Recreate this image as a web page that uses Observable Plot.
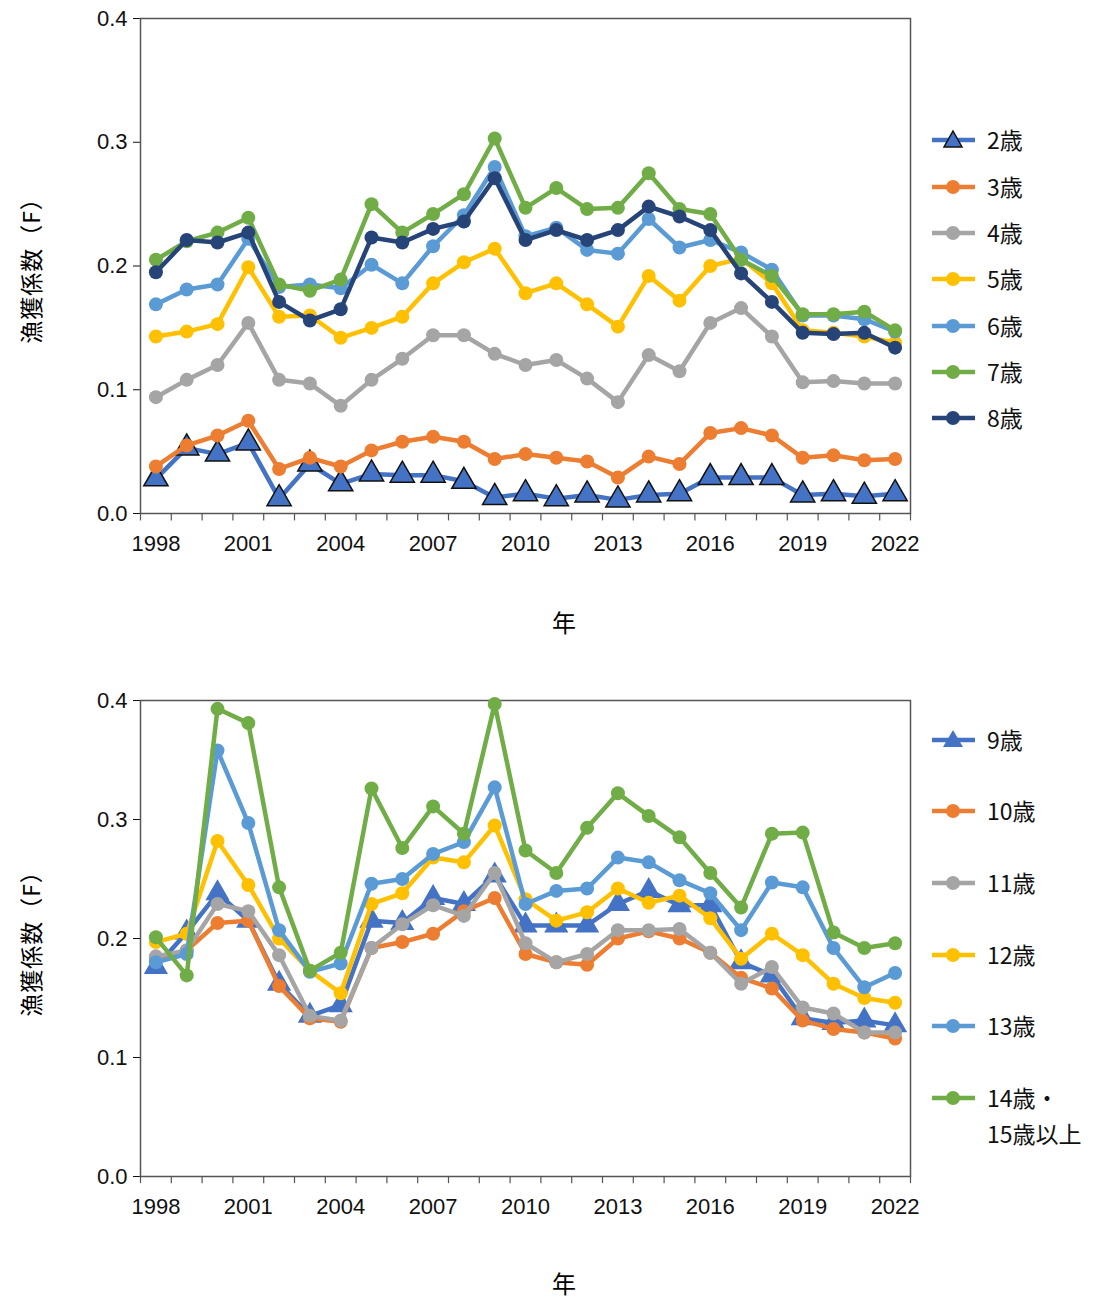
<!DOCTYPE html>
<html><head><meta charset="utf-8">
<script src="https://cdn.jsdelivr.net/npm/d3@7"></script>
<script src="https://cdn.jsdelivr.net/npm/@observablehq/plot@0.6"></script>
<style>
body{margin:0;background:#fff;font-family:"Liberation Sans",Arial,"Noto Sans CJK JP",sans-serif;}
#wrap{position:relative;width:1109px;height:1302px;}
.ylab{position:absolute;font-size:23px;font-family:"Noto Sans CJK JP",sans-serif;letter-spacing:1px;transform:translate(-50%,-50%) rotate(-90deg);white-space:nowrap;}
.xlab{position:absolute;font-size:24px;font-family:"Noto Sans CJK JP",sans-serif;}
.leg{position:absolute;font-size:23px;font-family:"Noto Sans CJK JP",sans-serif;display:flex;align-items:flex-start;line-height:1.55;color:#111;}
.leg svg{margin-right:12px;margin-top:6px;}
</style></head><body><div id="wrap"></div>
<script>
const years = d3.range(1998, 2023);
const yTicks = [0, 0.1, 0.2, 0.3, 0.4];
const xTickLabels = [1998, 2001, 2004, 2007, 2010, 2013, 2016, 2019, 2022];

const topAges = ["2歳","3歳","4歳","5歳","6歳","7歳","8歳"];
const age2 = [0.028,0.053,0.048,0.057,0.012,0.040,0.024,0.032,0.031,0.031,0.026,0.013,0.016,0.012,0.015,0.011,0.015,0.016,0.029,0.029,0.029,0.015,0.016,0.014,0.016];
const age3 = [0.038,0.055,0.063,0.075,0.036,0.045,0.038,0.051,0.058,0.062,0.058,0.044,0.048,0.045,0.042,0.029,0.046,0.040,0.065,0.069,0.063,0.045,0.047,0.043,0.044];
const age4 = [0.094,0.108,0.120,0.154,0.108,0.105,0.087,0.108,0.125,0.144,0.144,0.129,0.120,0.124,0.109,0.090,0.128,0.115,0.154,0.166,0.143,0.106,0.107,0.105,0.105];
const age5 = [0.143,0.147,0.153,0.199,0.159,0.160,0.142,0.150,0.159,0.186,0.203,0.214,0.178,0.186,0.169,0.151,0.192,0.172,0.200,0.206,0.186,0.148,0.146,0.143,0.138];
const age6 = [0.169,0.181,0.185,0.222,0.183,0.185,0.182,0.201,0.186,0.216,0.241,0.280,0.224,0.231,0.213,0.210,0.238,0.215,0.221,0.211,0.197,0.160,0.160,0.157,0.147];
const age7 = [0.205,0.220,0.227,0.239,0.185,0.180,0.189,0.250,0.227,0.242,0.258,0.303,0.247,0.263,0.246,0.247,0.275,0.246,0.242,0.205,0.192,0.161,0.161,0.163,0.148];
const age8 = [0.195,0.221,0.219,0.227,0.171,0.156,0.165,0.223,0.219,0.230,0.236,0.271,0.221,0.229,0.221,0.229,0.248,0.240,0.229,0.194,0.171,0.146,0.145,0.146,0.134];

const botAges = ["9歳","10歳","11歳","12歳","13歳","14歳・15歳以上"];
const age9  = [0.176,0.205,0.238,0.215,0.162,0.135,0.144,0.215,0.213,0.234,0.229,0.253,0.211,0.211,0.211,0.229,0.240,0.228,0.228,0.180,0.169,0.133,0.129,0.131,0.127];
const age10 = [0.183,0.190,0.213,0.215,0.160,0.133,0.130,0.192,0.197,0.204,0.223,0.234,0.187,0.180,0.178,0.200,0.206,0.200,0.188,0.167,0.158,0.131,0.124,0.121,0.116];
const age11 = [0.185,0.190,0.229,0.223,0.186,0.135,0.131,0.192,0.212,0.228,0.219,0.255,0.196,0.180,0.187,0.207,0.207,0.208,0.188,0.162,0.176,0.142,0.137,0.121,0.121];
const age12 = [0.197,0.204,0.282,0.245,0.200,0.173,0.154,0.229,0.238,0.268,0.264,0.295,0.233,0.215,0.222,0.242,0.230,0.236,0.217,0.183,0.204,0.186,0.162,0.150,0.146];
const age13 = [0.180,0.187,0.358,0.297,0.207,0.172,0.179,0.246,0.250,0.271,0.281,0.327,0.229,0.240,0.242,0.268,0.264,0.249,0.238,0.207,0.247,0.243,0.192,0.159,0.171];
const age14 = [0.201,0.169,0.393,0.381,0.243,0.173,0.188,0.326,0.276,0.311,0.288,0.397,0.274,0.255,0.293,0.322,0.303,0.285,0.255,0.226,0.288,0.289,0.205,0.192,0.196];

const C = {blue:"#4472C4",orange:"#ED7D31",gray:"#A5A5A5",yellow:"#FFC000",lblue:"#5B9BD5",green:"#70AD47",navy:"#264478"};
const topSeries = [[age2,C.blue,true],[age3,C.orange],[age4,C.gray],[age5,C.yellow],[age6,C.lblue],[age7,C.green],[age8,C.navy]];
const botSeries = [[age9,C.blue,"tri"],[age10,C.orange],[age11,C.gray],[age12,C.yellow],[age13,C.lblue],[age14,C.green]];
const boundaries = d3.range(1997.5, 2023, 1);

function chart(series, triOutline, plotH) {
  const marks = [];
  series.forEach(([vals, col, tri]) => {
    const data = years.map((y, j) => ({year: y, v: vals[j]}));
    marks.push(Plot.line(data, {x: "year", y: "v", stroke: col, strokeWidth: 4.5}));
    if (tri) marks.push(Plot.dot(data, {x: "year", y: "v", symbol: "triangle", r: 9, fill: col,
        stroke: triOutline ? "#111" : col, strokeWidth: triOutline ? 1.5 : 0}));
    else marks.push(Plot.dot(data, {x: "year", y: "v", r: 7, fill: col}));
  });
  const svg = Plot.plot({
    width: 930, height: plotH + 18 + 47,
    marginLeft: 140, marginRight: 20, marginTop: 18, marginBottom: 47,
    style: {fontSize: "22px", fontFamily: "'Liberation Sans',Arial,sans-serif", color: "#111"},
    x: {domain: [1997.5, 2022.5], ticks: xTickLabels, tickFormat: d => String(d), tickSize: 0, tickPadding: 22, label: null},
    y: {domain: [0, 0.4], ticks: yTicks, tickFormat: d3.format(".1f"), tickSize: 7, tickPadding: 6, label: null},
    marks: [
      Plot.ruleX(boundaries, {x: d => d, y1: 0, y2: -0.006, stroke: "#555", strokeWidth: 1.2, clip: false}),
      Plot.frame({stroke: "#555", strokeWidth: 1.5}),
      ...marks
    ]
  });
  return svg;
}

const wrap = document.getElementById("wrap");
function place(el, left, top) { el.style.position = "absolute"; el.style.left = left + "px"; el.style.top = top + "px"; wrap.appendChild(el); }

place(chart(topSeries, true, 495), 0, 0);
place(chart(botSeries, false, 476), 0, 682);

function addText(cls, txt, left, top) { const d = document.createElement("div"); d.className = cls; d.textContent = txt; d.style.left = left + "px"; d.style.top = top + "px"; wrap.appendChild(d); }
addText("ylab", "漁獲係数（F）", 30, 265);
addText("ylab", "漁獲係数（F）", 30, 938);
addText("xlab", "年", 552, 604);
addText("xlab", "年", 552, 1265);

function legendItem(name, col, type, top) {
  const d = document.createElement("div"); d.className = "leg";
  d.style.left = "931px"; d.style.top = (top - 18) + "px";
  const marker = type === "triO" ? `<polygon points="22,3 31,19 13,19" fill="${col}" stroke="#111" stroke-width="1.5"/>`
    : type === "tri" ? `<polygon points="22,2 32,19 12,19" fill="${col}"/>`
    : `<circle cx="22" cy="12" r="7" fill="${col}"/>`;
  d.innerHTML = `<svg width="46" height="24"><line x1="1" x2="44" y1="12" y2="12" stroke="${col}" stroke-width="4.5"/>${marker}</svg><span style="margin-left:-2px">${name.replace("・", "・<br>")}</span>`;
  wrap.appendChild(d);
}
const topCols = [C.blue,C.orange,C.gray,C.yellow,C.lblue,C.green,C.navy];
const topY = [140,187,233,279,326,372,418];
topAges.forEach((n, i) => legendItem(n, topCols[i], i === 0 ? "triO" : "dot", topY[i]));
const botCols = [C.blue,C.orange,C.gray,C.yellow,C.lblue,C.green];
const botY = [740,811,883,955,1026,1098];
botAges.forEach((n, i) => legendItem(n, botCols[i], i === 0 ? "tri" : "dot", botY[i]));
</script></body></html>
